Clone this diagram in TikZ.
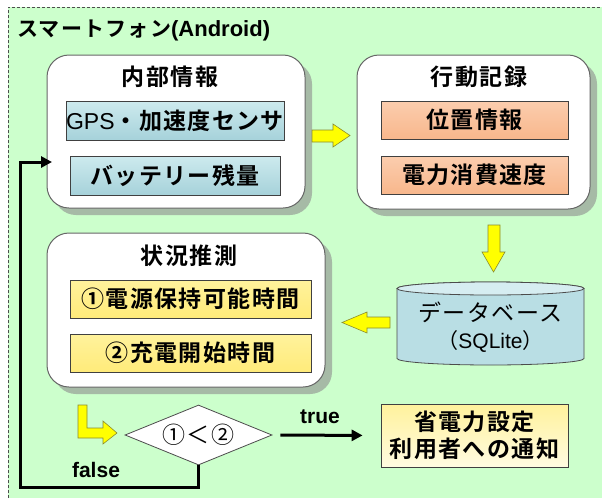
\documentclass[tikz,border=0pt]{standalone}
\usepackage{fontspec}
\setmainfont{Liberation Sans}
\newfontfamily\jp{Noto Sans CJK JP}[BoldFont={Noto Sans CJK JP Bold},LetterSpace=6]
\newfontfamily\lat{Liberation Sans}
\usetikzlibrary{shapes.geometric,shadows,arrows.meta}
\definecolor{bggreen}{HTML}{CCFFCC}
\definecolor{shadowg}{HTML}{A6BAA6}
\definecolor{bluetop}{HTML}{CDEAEE}
\definecolor{bluebot}{HTML}{A6D2DA}
\definecolor{ortop}{HTML}{FBCDAE}
\definecolor{orbot}{HTML}{F8B78C}
\definecolor{yetop}{HTML}{FFF29C}
\definecolor{yebot}{HTML}{FFEB7A}
\definecolor{cylbody}{HTML}{B9DEE4}
\definecolor{cyltop}{HTML}{D6EDF1}
\definecolor{yfill}{HTML}{FFFF00}
\definecolor{yline}{HTML}{8A8A30}
\newcommand\bxfont{\jp\bfseries\fontsize{23}{27}\selectfont}
\newcommand\rgfont{\jp\fontsize{23}{27}\selectfont}
\begin{document}
\begin{tikzpicture}[x=1pt,y=1pt,
  roundbox/.style={draw=black!60, line width=1pt, fill=white, rounded corners=22pt,
    drop shadow={shadow xshift=7pt, shadow yshift=-7pt, fill=shadowg, opacity=1}},
  innerbox/.style={draw=black!75, line width=0.8pt, inner sep=0pt, font=\bxfont,
    minimum height=38pt},
  bluebox/.style={innerbox, top color=bluetop, middle color=white!85!bluetop, bottom color=bluebot},
  orbox/.style={innerbox, top color=ortop, middle color=white!90!ortop, bottom color=orbot},
  yebox/.style={innerbox, top color=yetop, middle color=white!88!yetop, bottom color=yebot},
  boxtitle/.style={font=\bxfont, inner sep=0pt},
  yarrow/.style={fill=yfill, draw=yline, line width=0.6pt, line join=miter},
  conn/.style={line width=3pt, draw=black, line join=miter},
  lbl/.style={font=\lat\bfseries\fontsize{21}{24}\selectfont, inner sep=0pt}]
\useasboundingbox (0,0) rectangle (602,-501);
% background region
\fill[bggreen] (8,-7) rectangle (602,-498);
\draw[black!70, dashed, line width=0.7pt, dash pattern=on 3pt off 2pt] (8,-498) -- (8,-7) -- (602,-7);
\node[anchor=west, inner sep=0pt, font=\jp\bfseries\fontsize{21}{24}\selectfont] (title) at (17,-30)
  {スマートフォン{\lat\bfseries\fontsize{22}{24}\selectfont(Android)}};
% big rounded boxes
\node[roundbox, minimum width=258pt, minimum height=153pt] (naibu) at (176,-131.5) {};
\node[roundbox, minimum width=233pt, minimum height=154pt] (kodo) at (473.5,-132) {};
\node[roundbox, minimum width=278pt, minimum height=154pt] (jokyo) at (186,-310) {};
\node[boxtitle] (t1) at (170,-77) {内部情報};
\node[boxtitle] (t2) at (479,-77) {行動記録};
\node[boxtitle] (t3) at (189,-256) {状況推測};
% inner boxes
\node[bluebox, minimum width=210pt, minimum height=39pt] (gps) at (175,-120.5) {{\lat\mdseries GPS}・加速度センサ};
\node[bluebox, minimum width=210pt, minimum height=39pt] (batt) at (175,-175.5) {バッテリー残量};
\node[orbox, minimum width=187pt] (ichi) at (474.5,-120) {位置情報};
\node[orbox, minimum width=187pt] (denryoku) at (474.5,-175) {電力消費速度};
\node[yebox, minimum width=241pt] (one) at (190.5,-299) {①電源保持可能時間};
\node[yebox, minimum width=241pt] (two) at (190.5,-353) {②充電開始時間};
\node[innerbox, top color=yetop, bottom color=white!70!yetop, minimum width=187pt, minimum height=63pt, align=center] (note) at (474.5,-435.5) {省電力設定\\利用者への通知};
% database cylinder
\fill[cylbody, draw=black!70, line width=0.8pt] (397,-288.5) -- (397,-358.5)
  arc[start angle=180, end angle=360, x radius=93.5, y radius=6.5] -- (584,-288.5)
  arc[start angle=0, end angle=180, x radius=93.5, y radius=6.5] -- cycle;
\draw[fill=cyltop, draw=black!70, line width=0.8pt] (490.5,-288.5) ellipse [x radius=93.5, y radius=6.5];
\node[align=center, inner sep=0pt, font=\rgfont] (db) at (490.5,-327) {データベース\\{\fontsize{21}{24}\selectfont （{\lat SQLite}）}};
% decision
\node[draw=black!70, line width=0.8pt, fill=white, shape=diamond, aspect=2.45, inner sep=0pt,
  minimum width=147pt, minimum height=60pt, font=\rgfont] (dia) at (198.5,-435) {①＜②};
% yellow block arrows
\draw[yarrow] (312,-130) -- (333,-130) -- (333,-124) -- (350,-135.5) -- (333,-147) -- (333,-142) -- (312,-142) -- cycle;
\draw[yarrow] (488,-225) -- (500,-225) -- (500,-252) -- (505,-252) -- (493.5,-272) -- (482,-252) -- (488,-252) -- cycle;
\draw[yarrow] (390,-317) -- (367,-317) -- (367,-312) -- (342,-322.5) -- (367,-333) -- (367,-328) -- (390,-328) -- cycle;
\draw[yarrow] (78,-405) -- (87,-405) -- (87,-428) -- (103,-428) -- (103,-421) -- (117,-433) -- (103,-444) -- (103,-438) -- (78,-438) -- cycle;
% connectors
\draw[conn, -{Triangle[length=11pt, width=11pt]}, shorten <=8pt, shorten >=18pt] (dia.east) -- (note.west);
\coordinate (fcorner) at (20,-487);
\coordinate (fend) at (52,-162);
\draw[conn, -{Triangle[length=11pt, width=11pt]}] (dia.south) |- (fcorner) |- (fend);
\node[lbl] (truelbl) at (320,-417) {true};
\node[lbl] (falselbl) at (96,-470) {false};
\end{tikzpicture}
\end{document}
